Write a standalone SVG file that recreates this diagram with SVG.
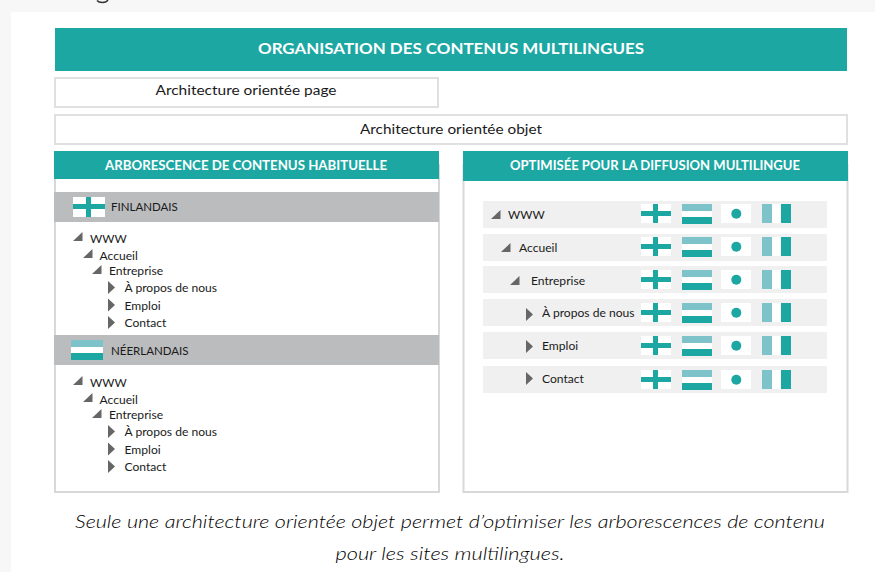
<svg xmlns="http://www.w3.org/2000/svg" width="875" height="572" viewBox="0 0 875 572">
<style>
text{font-family:Lato,"Noto Sans","Liberation Sans",sans-serif;fill:#1a1a1a}
.t{fill:#1ca7a3}.l{fill:#7fc3ca}.w{fill:#fff}.g{fill:#666}.r{fill:#f0f0f0}
.box{fill:#fff;stroke:#e0e0e0;stroke-width:2}
.pan{fill:#fff;stroke:#d8d8d8;stroke-width:2}
.h{fill:#fff;font-weight:700;text-anchor:middle}
.s{font-size:12.100px}
.c{font-style:italic;font-weight:300;fill:#000}
</style>
<defs>
<g id="fi"><rect class="w" width="32" height="20"/><rect class="t" y="7" width="32" height="5"/><rect class="t" x="13" width="5" height="20"/></g>
<g id="nl"><rect class="l" width="32" height="7"/><rect class="w" y="7" width="32" height="6.500"/><rect class="t" y="13" width="32" height="7"/></g>
<g id="fi2"><rect class="w" width="30" height="19"/><rect class="t" y="7" width="30" height="5"/><rect class="t" x="12" width="5" height="19"/></g>
<g id="nl2"><rect class="l" width="30" height="7"/><rect class="w" y="7" width="30" height="6"/><rect class="t" y="13" width="30" height="7"/></g>
<g id="jp"><rect class="w" width="30" height="19"/><circle class="t" cx="15.300" cy="9.700" r="5"/></g>
<g id="it"><rect class="w" x="0" width="29" height="19"/><rect class="l" width="10" height="19"/><rect class="t" x="19" width="10" height="19"/></g>
<g id="flags"><use href="#fi2" x="641"/><use href="#nl2" x="682"/><use href="#jp" x="721"/><use href="#it" x="762"/></g>
<path id="d" class="g" d="M0 9L9.500 0V9Z"/>
<path id="a" class="g" d="M0 0L7 6.500L0 13Z"/>
<g id="tree">
<use href="#d" x="73" y="232"/><text x="90" y="243" font-size="11.800">WWW</text>
<use href="#d" x="83" y="249"/><text x="99.500" y="259.500" class="s">Accueil</text>
<use href="#d" x="92" y="265"/><text x="109" y="275" class="s">Entreprise</text>
<use href="#a" x="108" y="281"/><text x="124.500" y="292" class="s">À propos de nous</text>
<use href="#a" x="108" y="298.500"/><text x="124.500" y="310" class="s">Emploi</text>
<use href="#a" x="108" y="316"/><text x="124.500" y="327" class="s">Contact</text>
</g>
</defs>
<rect width="875" height="572" fill="#f7f7f7"/>
<rect x="11" y="12" width="864" height="560" fill="#fff"/>
<path d="M97 0.500C99 3 106 3.500 108 0" fill="none" stroke="#333" stroke-width="1.500"/>

<g id="title"><rect class="t" x="55" y="28" width="792" height="43"/><text class="h" x="451" y="54" font-size="15.500" textLength="386" lengthAdjust="spacingAndGlyphs">ORGANISATION DES CONTENUS MULTILINGUES</text></g>
<g id="page-box"><rect class="box" x="55" y="78" width="383" height="29"/><text x="246" y="95" font-size="13.500" text-anchor="middle" textLength="181" lengthAdjust="spacingAndGlyphs">Architecture orientée page</text></g>
<g id="object-box"><rect class="box" x="55" y="115" width="792" height="29"/><text x="451" y="134" font-size="13.500" text-anchor="middle" textLength="182" lengthAdjust="spacingAndGlyphs">Architecture orientée objet</text></g>

<g id="left-panel">
<rect class="pan" x="55" y="165" width="384" height="327"/>
<rect class="t" x="54" y="151" width="385" height="28"/>
<text class="h" x="246" y="170" font-size="12.500" font-weight="600" textLength="282" lengthAdjust="spacingAndGlyphs">ARBORESCENCE DE CONTENUS HABITUELLE</text>
<g id="fi-section">
<rect x="54" y="192" width="385" height="30" fill="#bbbcbe"/>
<use href="#fi" x="73" y="197"/>
<text x="111" y="211" font-size="11.500">FINLANDAIS</text>
<use href="#tree"/>
</g>
<g id="nl-section">
<rect x="54" y="335" width="385" height="30" fill="#bbbcbe"/>
<use href="#nl" x="71" y="340"/>
<text x="111" y="355" font-size="11.500">NÉERLANDAIS</text>
<use href="#tree" y="144"/>
</g>
</g>

<g id="right-panel">
<rect class="pan" x="463.500" y="165" width="384" height="327"/>
<rect class="t" x="463" y="151" width="385" height="30"/>
<text class="h" x="655" y="170" font-size="12.500" font-weight="600" textLength="290" lengthAdjust="spacingAndGlyphs">OPTIMISÉE POUR LA DIFFUSION MULTILINGUE</text>
<g id="row-www"><rect class="r" x="483" y="201" width="344" height="27"/><use href="#d" x="491" y="210"/><text x="508" y="219" font-size="11.800">WWW</text><use href="#flags" y="204"/></g>
<g id="row-accueil"><rect class="r" x="483" y="234" width="344" height="27"/><use href="#d" x="501" y="243"/><text x="519" y="252" class="s">Accueil</text><use href="#flags" y="237"/></g>
<g id="row-entreprise"><rect class="r" x="483" y="266" width="344" height="27"/><use href="#d" x="510" y="276"/><text x="531" y="285" class="s">Entreprise</text><use href="#flags" y="270"/></g>
<g id="row-apropos"><rect class="r" x="483" y="299" width="344" height="27"/><use href="#a" x="526" y="308"/><text x="542" y="317" class="s">À propos de nous</text><use href="#flags" y="303"/></g>
<g id="row-emploi"><rect class="r" x="483" y="332" width="344" height="27"/><use href="#a" x="526" y="340"/><text x="542" y="350" class="s">Emploi</text><use href="#flags" y="336"/></g>
<g id="row-contact"><rect class="r" x="483" y="366" width="344" height="27"/><use href="#a" x="526" y="372"/><text x="542" y="383" class="s">Contact</text><use href="#flags" y="370"/></g>
</g>

<g id="caption" font-size="18" text-anchor="middle">
<text class="c" x="450" y="528" textLength="750" lengthAdjust="spacingAndGlyphs">Seule une architecture orientée objet permet d’optimiser les arborescences de contenu</text>
<text class="c" x="450" y="560" textLength="229" lengthAdjust="spacingAndGlyphs">pour les sites multilingues.</text>
</g>
</svg>
